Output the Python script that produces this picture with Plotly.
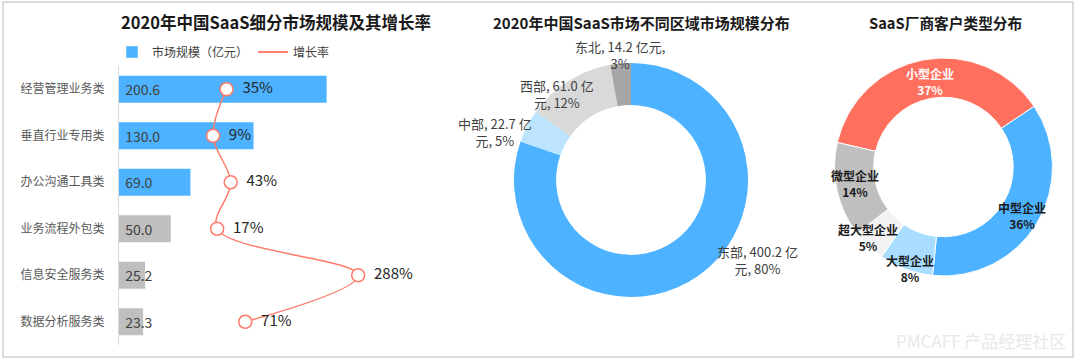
import plotly.graph_objects as go

# ---------------- data ----------------
segments = ["经营管理业务类", "垂直行业专用类", "办公沟通工具类", "业务流程外包类", "信息安全服务类", "数据分析服务类"]
market_size = [200.6, 130.0, 69.0, 50.0, 25.2, 23.3]
growth_rate = [35, 9, 43, 17, 288, 71]

regions = ["东部", "中部", "西部", "东北"]
region_size = [400.2, 22.7, 61.0, 14.2]
region_pct = [80, 5, 12, 3]

cust_types = ["小型企业", "中型企业", "大型企业", "超大型企业", "微型企业"]
cust_pct = [37, 36, 8, 5, 14]

titles = ["2020年中国SaaS细分市场规模及其增长率", "2020年中国SaaS市场不同区域市场规模分布", "SaaS厂商客户类型分布"]

# ---------------- style ----------------
W, H = 1080, 364
FONT = "Noto Sans CJK SC"
BLUE = "#4DB2FF"
GRAY = "#BFBFBF"
RED = "#FF7B6B"
bar_colors = [BLUE, BLUE, BLUE, GRAY, GRAY, GRAY]
region_colors = [BLUE, "#BDE4FF", "#D9D9D9", "#A6A6A6"]
cust_colors = ["#FF6F5E", BLUE, "#A9DDFF", "#F2F2F2", "#BFBFBF"]


def px_x(v):
    return v / W


def px_y(v):
    return (H - v) / H


fig = go.Figure()

# bars
fig.add_trace(go.Bar(
    x=market_size, y=segments, orientation="h",
    marker=dict(color=bar_colors, line=dict(width=0)),
    texttemplate="\u00a0%{x:.1f}", textposition="inside", insidetextanchor="start",
    constraintext="none", textangle=0,
    textfont=dict(family=FONT, size=14, color="#404040"),
    showlegend=False, xaxis="x", yaxis="y",
))
# growth line
fig.add_trace(go.Scatter(
    x=growth_rate, y=segments, mode="lines+markers+text",
    line=dict(color=RED, width=1.5, shape="spline", smoothing=1.0),
    marker=dict(symbol="circle", size=13, color="white", line=dict(color=RED, width=1.5)),
    text=[f"\u00a0\u00a0{g}%" for g in growth_rate], textposition="middle right",
    textfont=dict(family=FONT, size=15, color="#262626"),
    showlegend=False, xaxis="x2", yaxis="y",
))
# legend entries
fig.add_trace(go.Bar(x=[None], y=[None], name="市场规模（亿元）", marker=dict(color=BLUE),
                     xaxis="x", yaxis="y", showlegend=True))
fig.add_trace(go.Scatter(x=[None], y=[None], name="增长率", mode="lines",
                         line=dict(color=RED, width=2), xaxis="x2", yaxis="y", showlegend=True))

# region donut
fig.add_trace(go.Pie(
    labels=regions, values=region_size, hole=0.64, sort=False, direction="clockwise",
    rotation=0, marker=dict(colors=region_colors, line=dict(color="white", width=0)),
    textinfo="none", showlegend=False,
    domain=dict(x=[px_x(514), px_x(748)], y=[px_y(297), px_y(63)]),
))
# customer donut
fig.add_trace(go.Pie(
    labels=cust_types, values=cust_pct, hole=0.64, sort=False, direction="clockwise",
    rotation=-77, marker=dict(colors=cust_colors, line=dict(color="white", width=1)),
    textinfo="none", showlegend=False,
    domain=dict(x=[px_x(834.5), px_x(1052.5)], y=[px_y(276), px_y(58)]),
))

annotations = []
for t, cx, fs in zip(titles, [276, 641, 945], [16.5, 15, 14.7]):
    annotations.append(dict(text=f"<b>{t}</b>", x=px_x(cx), y=px_y(22), xref="paper", yref="paper",
                            showarrow=False, xanchor="center", yanchor="middle",
                            font=dict(family=FONT, size=fs, color="#1A1A1A")))

# region labels
region_label_pos = [(757, 260), (495, 132), (557, 94), (620, 55)]
for name, val, pct, (lx, ly) in zip(regions, region_size, region_pct, region_label_pos):
    if name == "东北":
        txt = f"{name}, {val:.1f} 亿元,<br>{pct}%"
    else:
        txt = f"{name}, {val:.1f} 亿<br>元, {pct}%"
    annotations.append(dict(text=txt, x=px_x(lx), y=px_y(ly), xref="paper", yref="paper",
                            showarrow=False, xanchor="center", yanchor="middle", align="center",
                            font=dict(family=FONT, size=13, color="#404040")))

# customer labels
cust_label_pos = [(930, 82), (1022, 215), (910, 268), (868, 237), (855, 183)]
for name, pct, (lx, ly) in zip(cust_types, cust_pct, cust_label_pos):
    col = "white" if name == "小型企业" else "#1A1A1A"
    annotations.append(dict(text=f"<b>{name}</b><br><b>{pct}%</b>", x=px_x(lx), y=px_y(ly),
                            xref="paper", yref="paper", showarrow=False, xanchor="center",
                            yanchor="middle", align="center",
                            font=dict(family=FONT, size=12, color=col)))

# watermark
annotations.append(dict(text="PMCAFF 产品经理社区", x=px_x(1068), y=px_y(340), xref="paper", yref="paper",
                        showarrow=False, xanchor="right", yanchor="middle",
                        font=dict(family=FONT, size=17, color="#E8E8E8")))

fig.update_layout(
    width=W, height=H, autosize=False,
    margin=dict(l=0, r=0, t=0, b=0),
    paper_bgcolor="white", plot_bgcolor="rgba(0,0,0,0)",
    font=dict(family=FONT, size=12, color="#404040"),
    bargap=0.42,
    xaxis=dict(domain=[px_x(119), px_x(430)], range=[0, 300.5], visible=False, fixedrange=True),
    xaxis2=dict(overlaying="x", anchor="y", range=[-171.7, 426], visible=False),
    yaxis=dict(domain=[px_y(345), px_y(66)], autorange="reversed", type="category",
               categoryorder="array", categoryarray=segments,
               showline=True, linecolor="#D9D9D9", linewidth=1, ticks="",
               showgrid=False, zeroline=False, ticklabelstandoff=11,
               tickfont=dict(family=FONT, size=12, color="#595959")),
    legend=dict(orientation="h", x=px_x(112), y=px_y(52), xanchor="left", yanchor="middle",
                font=dict(family=FONT, size=12, color="#404040"), itemwidth=30,
                bgcolor="rgba(0,0,0,0)", traceorder="normal"),
    annotations=annotations,
    shapes=[dict(type="rect", xref="paper", yref="paper", x0=px_x(3), x1=px_x(1073),
                 y0=px_y(357), y1=px_y(2), line=dict(color="#D0D0D0", width=1.5))],
)

fig.write_html("out.html", config={"displayModeBar": False},
               post_script="document.body.style.margin='0';document.body.style.overflow='hidden';")
